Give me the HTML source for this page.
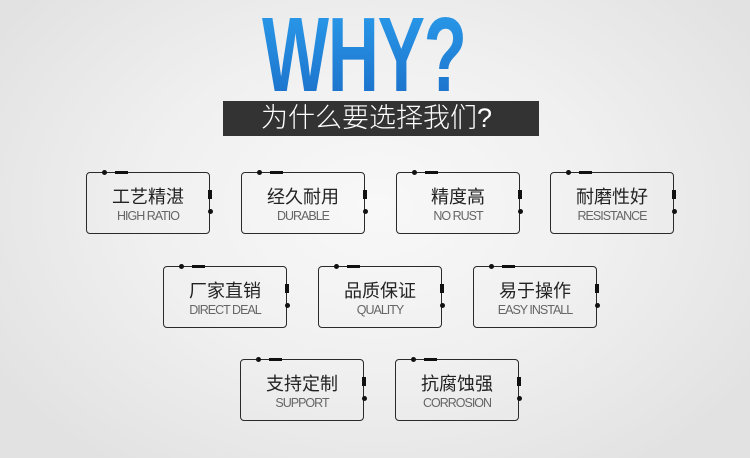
<!DOCTYPE html>
<html><head><meta charset="utf-8"><style>
*{margin:0;padding:0;box-sizing:border-box}
body{width:750px;height:458px;overflow:hidden;position:relative;font-family:"Liberation Sans","Noto Sans CJK SC",sans-serif;
background:radial-gradient(ellipse 60% 70% at 50% 45%,#f8f8f8 0%,#f0f0f0 50%,#e2e2e2 100%);}
.why{position:absolute;left:262px;top:5px;width:340px;height:100px;font-weight:bold;font-size:106px;line-height:100px;
background:linear-gradient(#2a9bea,#1b6fc9);-webkit-background-clip:text;background-clip:text;color:transparent;transform-origin:0 0;transform:scaleX(0.67);white-space:nowrap;letter-spacing:-2px}
.bar{position:absolute;left:223px;top:101px;width:316px;height:35px;background:#333;color:#fff;font-size:27px;line-height:35px;padding-left:38px;font-weight:300;white-space:nowrap}
.box{position:absolute;width:124px;height:62px;border:1.3px solid #2a2a2a;border-radius:4px;text-align:center}
.box:before{content:"";position:absolute;left:15px;top:-3px;width:5px;height:5px;border-radius:50%;background:#111}
.box:after{content:"";position:absolute;left:28px;top:-2.5px;width:13px;height:3px;background:#111}
.r1{position:absolute;right:-3px;top:17px;width:4px;height:9px;background:#111}
.r2{position:absolute;right:-3.5px;top:36px;width:5px;height:5px;border-radius:50%;background:#111}
.cn{position:absolute;left:0;right:0;top:14px;font-size:18px;line-height:20px;color:#222}
.en{position:absolute;left:0;right:0;top:36px;font-size:12.5px;line-height:14px;color:#666;letter-spacing:-1px}
</style></head><body>
<div class="why">WHY?</div>
<div class="bar">为什么要选择我们?</div>

<div class="box" style="left:86px;top:172px"><i class="r1"></i><i class="r2"></i><div class="cn">工艺精湛</div><div class="en">HIGH RATIO</div></div>
<div class="box" style="left:241px;top:172px"><i class="r1"></i><i class="r2"></i><div class="cn">经久耐用</div><div class="en">DURABLE</div></div>
<div class="box" style="left:396px;top:172px"><i class="r1"></i><i class="r2"></i><div class="cn">精度高</div><div class="en">NO RUST</div></div>
<div class="box" style="left:550px;top:172px"><i class="r1"></i><i class="r2"></i><div class="cn">耐磨性好</div><div class="en">RESISTANCE</div></div>

<div class="box" style="left:163px;top:266px"><i class="r1"></i><i class="r2"></i><div class="cn">厂家直销</div><div class="en">DIRECT DEAL</div></div>
<div class="box" style="left:318px;top:266px"><i class="r1"></i><i class="r2"></i><div class="cn">品质保证</div><div class="en">QUALITY</div></div>
<div class="box" style="left:473px;top:266px"><i class="r1"></i><i class="r2"></i><div class="cn">易于操作</div><div class="en">EASY INSTALL</div></div>

<div class="box" style="left:240px;top:359px"><i class="r1"></i><i class="r2"></i><div class="cn">支持定制</div><div class="en">SUPPORT</div></div>
<div class="box" style="left:395px;top:359px"><i class="r1"></i><i class="r2"></i><div class="cn">抗腐蚀强</div><div class="en">CORROSION</div></div>
</body></html>
